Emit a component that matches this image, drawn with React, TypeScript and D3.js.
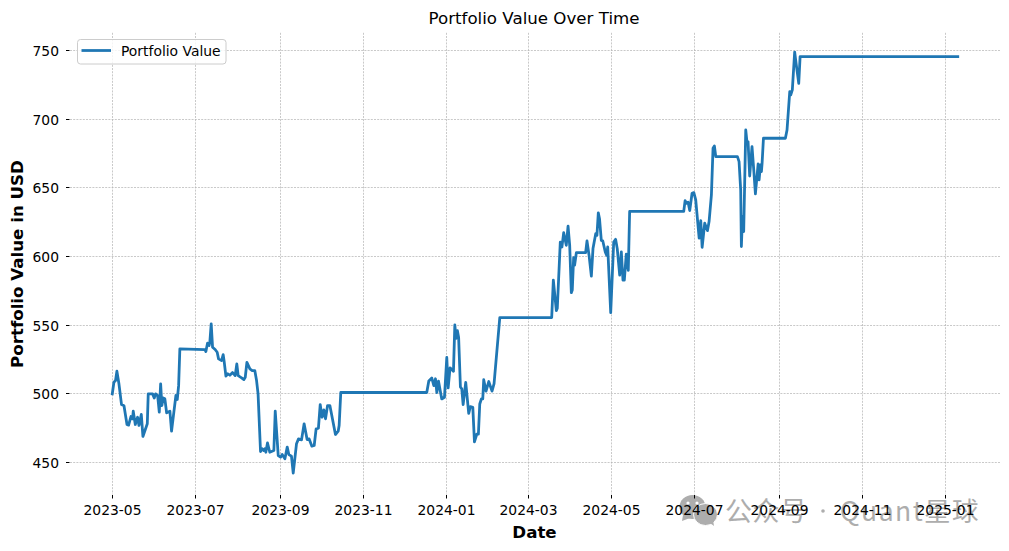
import React from "react";
import * as d3 from "d3";

const startDate = "2023-05-01";
// days since startDate
const dayOffsets = [0,1.2,2.4,3.4,4.9,6.8,8.6,10.8,12,13.7,14.9,15.4,16.9,18.6,19.6,21.3,22.5,25.7,26.4,29.6,30.8,31.8,33.3,34.5,35.5,36.4,37.4,38.6,39.9,42.3,43.5,45.2,46.7,47.7,48.7,49.6,68,68.7,69.9,71.1,71.6,72.6,73.6,75.5,77,78,80.2,81.4,82.2,83.4,84.8,86.3,88.3,90.2,91.4,92.4,94.9,96.6,97.6,98.8,101,102.7,104.6,105.9,107,108.8,110,111.2,112,112.7,113.9,115.6,118.6,119.6,121.8,123.5,124.7,126.7,128.4,129.6,131.5,132.8,135.2,136.7,138.9,140.8,143,144.5,146.5,148.2,149.6,151.3,152.6,154,155.3,156.5,158,159.7,163.8,165.8,166.5,167.7,
230.8,232.3,234.5,236,237.2,238.2,239.4,241.8,243.8,245.5,246.5,247.9,250.4,251.4,252.3,253.3,254.2,255.5,256.5,257.5,259.4,261.6,262.8,264.6,265.8,267.5,268.7,269.7,270.9,271.9,272.6,274.3,276.3,278.7,280.2,284.4,322.5,
323.7,325.9,326.6,328.8,330,331.3,333.2,334.5,335.7,336.9,337.6,338.6,339.3,340.6,347.4,348.4,349.9,351.6,352.8,354.8,355.7,356.7,357.6,358.9,360,361.8,362.8,363.6,365.8,368,369.4,370.6,372.4,373.6,374.8,375.8,377.2,378.7,379.7,419.4,
420.4,421.4,422.6,423.8,425.5,426.8,428.2,430.7,431.9,432.9,434.8,436.8,438,439.7,440.9,441.9,442.9,458.8,460,461.2,461.7,462.5,463.4,464.9,465.9,466.6,467.8,469.5,470.8,472,474,474.7,475.7,476.4,476.9,477.9,494,495.2,497.2,497.9,499.1,500.8,502,503.8,504.8,620.5];
const portfolioValues = [500,508.5,509.7,516.5,507.3,492.2,491.3,477.7,477.2,483.5,481.8,487.4,477.7,483,477,485,469,478.2,500,500,497,500,498.8,486.7,507.3,491.5,497,496.4,486.2,487.4,472.8,486.7,498.8,495.9,506,532.8,532.3,530.8,536.9,535.2,537.6,551,534,532.3,530.3,525.5,524.3,528.6,523,512.9,514.6,513.6,515.5,513.3,521.8,513.3,511.7,510.4,512.1,523,518.2,517,517,509.7,500,458,460,458.7,460,457.5,464.3,457.5,458.7,487.4,455,453.9,455.8,452.7,461.2,455.8,454.6,442.2,463.6,467.2,466.5,478.2,466.7,467.2,461.9,462.4,474.5,475,492.2,483,488.3,481.8,491.5,491.5,470.4,472.8,476.9,501,
501,509.3,511.5,506,511,501,509.3,496.3,497.5,526.5,504.4,519,516.4,550.2,540.4,546,541,505,503.7,492.2,508.3,485.8,490.7,490.2,465,470.6,470.6,492.6,496.3,496.3,510.3,502,509,502,507.4,555.6,555.6,
582.9,560.6,562.3,610.6,607,617.4,608.2,622.2,608.2,573.7,575.6,599.3,593.7,602.9,602.9,611.4,601,585.7,605.8,616.7,615.5,631.9,627.5,611.8,611.4,603.4,601,607,559.2,610.6,612.6,605.8,586.5,603.4,582.9,582.9,601.7,590,632.9,632.9,
640.8,638.8,639.6,633.5,646.1,646.6,641.3,613.4,626.2,606.8,624.3,618.9,625.5,644.9,678.9,680.6,672.8,672.8,669.2,648.5,607.3,629,618.2,692.2,682.5,683.7,658.7,680.1,663,645.6,667.5,655.8,666.7,661.9,667.9,686.2,686.2,692.2,720.1,717.7,721.4,749,739.6,726.2,745.6,745.6];

const tickLabelsX = ["2023-05","2023-07","2023-09","2023-11","2024-01","2024-03","2024-05","2024-07","2024-09","2024-11","2025-01"];
const tickValuesY = [450,500,550,600,650,700,750];

const W = 1009, H = 551;
const left = 70, right = 1000, top = 32.8, bottom = 494.5;
const FONT = "'DejaVu Sans', sans-serif";
const TICK = "#000";
const GRID = "#b2b2b2";
const LINE = "#1f77b4";

const parse = d3.utcParse("%Y-%m-%d");
const parseMonth = d3.utcParse("%Y-%m");
const base = parse(startDate)!;
const toDate = (d: number) => new Date(base.getTime() + d * 864e5);

const x = d3.scaleUtc().domain([toDate(-31.02), toDate(651.5)]).range([left, right]);
const y = d3.scaleLinear().domain([426.7, 763]).range([bottom, top]);

const series = dayOffsets.map((d, i) => ({ date: toDate(d), value: portfolioValues[i] }));
const linePath = d3.line<{ date: Date; value: number }>().x((d) => x(d.date)).y((d) => y(d.value))(series) || "";

export default function App() {
  return (
    <svg width={W} height={H} viewBox={`0 0 ${W} ${H}`} style={{ position: "absolute", left: 0, top: 0, background: "#fff" }} fontFamily={FONT}>
      <g fill="#adadad">
        <ellipse cx={692.5} cy={507} rx={13} ry={12} />
        <path d="M683 515 L682 521 L690 518 Z" />
        <ellipse cx={705.5} cy={514.5} rx={12} ry={11} stroke="#fff" strokeWidth={1} />
        <path d="M710 523 L714 526 L713 520 Z" />
        <circle cx={688} cy={503} r={1.6} fill="#fff" />
        <circle cx={697} cy={503} r={1.6} fill="#fff" />
        <text x={725} y={521} fontFamily="'Noto Sans CJK SC'" fontSize={27} letterSpacing={0.5}>公众号</text>
        <circle cx={823} cy={511} r={1.8} />
        <text x={840} y={521} fontFamily="'Noto Sans CJK SC'" fontSize={26.5} letterSpacing={1.45}>Quant星球</text>
      </g>
      {tickLabelsX.map((t) => {
        const px = Math.round(x(parseMonth(t)!)) + 0.5;
        return (
          <g key={t}>
            <line x1={px} x2={px} y1={top} y2={bottom} stroke={GRID} strokeWidth={0.7} strokeDasharray="2 1.2" />
            <line x1={px} x2={px} y1={bottom + 0.5} y2={bottom + 4} stroke={TICK} strokeWidth={1} />
            <text x={px} y={515} textAnchor="middle" fontSize={13.89} fill="#000">{t}</text>
          </g>
        );
      })}
      {tickValuesY.map((t) => {
        const py = Math.round(y(t) - 0.5) + 0.5;
        return (
          <g key={t}>
            <line x1={left} x2={right} y1={py} y2={py} stroke={GRID} strokeWidth={0.7} strokeDasharray="2 1.2" />
            <line x1={left - 4} x2={left - 0.5} y1={py} y2={py} stroke={TICK} strokeWidth={1} />
            <text x={left - 11} y={py + 5} textAnchor="end" fontSize={13.89} fill="#000">{t}</text>
          </g>
        );
      })}
      <path d={linePath} fill="none" stroke={LINE} strokeWidth={2.78} strokeLinejoin="round" strokeLinecap="square" />
      <text x={534} y={23.5} textAnchor="middle" fontSize={16.67} fill="#000">Portfolio Value Over Time</text>
      <text x={534.5} y={538} textAnchor="middle" fontSize={16.67} fontWeight="bold" fill="#000">Date</text>
      <text transform="translate(22.5,264) rotate(-90)" textAnchor="middle" fontSize={16.67} fontWeight="bold" fill="#000">Portfolio Value in USD</text>
      <g>
        <rect x={77.5} y={39.5} width={148.5} height={24.5} rx={3} fill="#fff" fillOpacity={0.8} stroke="#cccccc" strokeWidth={1} />
        <line x1={81.5} x2={111} y1={50.5} y2={50.5} stroke={LINE} strokeWidth={2.78} />
        <text x={121} y={56} fontSize={13.89} fill="#000">Portfolio Value</text>
      </g>
    </svg>
  );
}
